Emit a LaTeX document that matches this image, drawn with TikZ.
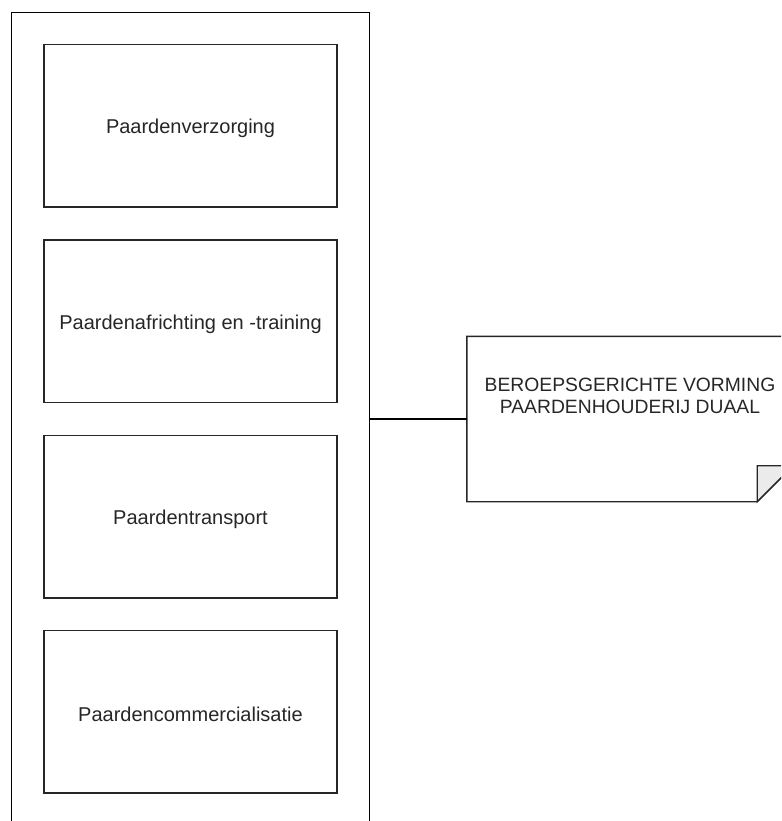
\documentclass[tikz,border=0pt]{standalone}
\usepackage{fontspec}
\setmainfont{Liberation Sans}
\newcommand{\lowtext}[1]{\raisebox{-3pt}[\height][\depth]{#1}}
\begin{document}
\begin{tikzpicture}[x=1pt,y=-1pt,
  outerbox/.style={draw=black, line width=1.4pt, minimum width=358pt, minimum height=813pt, inner sep=0pt},
  itembox/.style={draw=black!85, line width=1.5pt, minimum width=293pt, minimum height=162.5pt, inner sep=0pt,
    font=\fontsize{20pt}{24pt}\selectfont, text=black!85},
  notetext/.style={align=center, font=\fontsize{19.3pt}{21.5pt}\selectfont, text=black!85, inner sep=0pt},
  notefold/.style={draw=black!85, line width=1.4pt, fill=black!8, line join=miter},
  conn/.style={draw=black, line width=1.4pt}]
\useasboundingbox (0,0) rectangle (781,821);
\clip (0,0) rectangle (781,821);
\node[outerbox] (outer) at (190.5,419) {};
\node[itembox] (b1) at (190.5,125.75) {\lowtext{Paardenverzorging}};
\node[itembox] (b2) at (190.5,321.25) {\lowtext{Paardenafrichting en -training}};
\node[itembox] (b3) at (190.5,516.75) {\lowtext{Paardentransport}};
\node[itembox] (b4) at (190.5,711.75) {\lowtext{Paardencommercialisatie}};
\node[minimum width=326pt, minimum height=165pt, inner sep=0pt] (note) at (630,419) {};
\draw[draw=black!85, line width=1.4pt, line join=miter]
  (note.north west) -- (note.north east) -- ([yshift=36pt]note.south east)
  -- ([xshift=-36pt]note.south east) -- (note.south west) -- cycle;
\draw[notefold] ([xshift=-36pt]note.south east) -- ([xshift=-36pt,yshift=36pt]note.south east)
  -- ([yshift=36pt]note.south east) -- cycle;
\node[notetext] (nt) at (630,396) {BEROEPSGERICHTE VORMING\\PAARDENHOUDERIJ DUAAL};
\draw[conn] (outer.east) -- (note.west);
\end{tikzpicture}
\end{document}
